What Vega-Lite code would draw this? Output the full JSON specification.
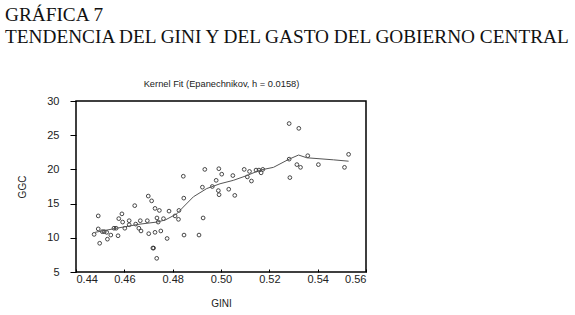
{
  "$schema": "https://vega.github.io/schema/vega-lite/v6.json",
  "width": 290,
  "height": 171,
  "autosize": {"type": "none"},
  "padding": {"left": 76, "top": 101, "right": 209, "bottom": 43},
  "background": "white",
  "title": {
    "text": ["GRÁFICA 7", "TENDENCIA DEL GINI Y DEL GASTO DEL GOBIERNO CENTRAL"],
    "anchor": "start",
    "frame": "group",
    "font": "Liberation Serif",
    "fontSize": 19.3,
    "fontWeight": "normal",
    "color": "#111",
    "lineHeight": 22,
    "dx": -71,
    "offset": 32
  },
  "config": {
    "view": {"stroke": "#000", "strokeWidth": 1.5},
    "axis": {
      "labelFont": "Liberation Sans",
      "titleFont": "Liberation Sans",
      "labelFontSize": 11,
      "titleFontSize": 10,
      "titleFontWeight": "normal",
      "labelColor": "#222",
      "titleColor": "#222",
      "tickColor": "#000",
      "grid": false,
      "domain": false,
      "labelOverlap": false
    }
  },
  "datasets": {
    "pts": [
      {"gini":0.4475,"ggc":10.5},{"gini":0.4492,"ggc":13.2},{"gini":0.4492,"ggc":11.3},{"gini":0.4498,"ggc":9.2},
      {"gini":0.4509,"ggc":10.9},{"gini":0.4517,"ggc":10.9},{"gini":0.4527,"ggc":10.8},{"gini":0.453,"ggc":9.8},
      {"gini":0.4544,"ggc":10.4},{"gini":0.4557,"ggc":11.4},{"gini":0.4566,"ggc":11.4},{"gini":0.4574,"ggc":10.3},
      {"gini":0.4577,"ggc":12.8},{"gini":0.459,"ggc":13.5},{"gini":0.4593,"ggc":12.3},{"gini":0.4602,"ggc":11.4},
      {"gini":0.462,"ggc":12.5},{"gini":0.462,"ggc":11.9},{"gini":0.4643,"ggc":14.7},{"gini":0.4647,"ggc":12.0},
      {"gini":0.466,"ggc":11.4},{"gini":0.4666,"ggc":12.5},{"gini":0.4669,"ggc":11.0},{"gini":0.4695,"ggc":12.5},
      {"gini":0.4699,"ggc":16.1},{"gini":0.4701,"ggc":10.6},{"gini":0.4713,"ggc":15.4},{"gini":0.4718,"ggc":8.5},
      {"gini":0.4721,"ggc":8.5},{"gini":0.4727,"ggc":14.3},{"gini":0.4727,"ggc":10.8},{"gini":0.4734,"ggc":7.0},
      {"gini":0.4735,"ggc":12.9},{"gini":0.474,"ggc":12.3},{"gini":0.4745,"ggc":14.0},{"gini":0.4751,"ggc":11.0},
      {"gini":0.4762,"ggc":12.8},{"gini":0.4777,"ggc":9.9},{"gini":0.4785,"ggc":13.9},{"gini":0.481,"ggc":13.2},
      {"gini":0.4824,"ggc":12.7},{"gini":0.4826,"ggc":14.0},{"gini":0.4844,"ggc":19.0},{"gini":0.4846,"ggc":15.8},
      {"gini":0.4847,"ggc":10.4},{"gini":0.4909,"ggc":10.4},{"gini":0.4923,"ggc":17.4},{"gini":0.4926,"ggc":12.9},
      {"gini":0.4933,"ggc":20.0},{"gini":0.4964,"ggc":17.5},{"gini":0.498,"ggc":18.4},{"gini":0.4989,"ggc":16.9},
      {"gini":0.4991,"ggc":20.1},{"gini":0.4992,"ggc":16.3},{"gini":0.5003,"ggc":19.3},{"gini":0.5032,"ggc":17.1},
      {"gini":0.5049,"ggc":19.1},{"gini":0.5057,"ggc":16.2},{"gini":0.5096,"ggc":20.0},{"gini":0.5109,"ggc":18.9},
      {"gini":0.5118,"ggc":19.7},{"gini":0.5126,"ggc":18.3},{"gini":0.5145,"ggc":19.9},{"gini":0.5157,"ggc":19.9},
      {"gini":0.5166,"ggc":19.5},{"gini":0.5173,"ggc":20.0},{"gini":0.5282,"ggc":26.7},{"gini":0.5322,"ggc":26.0},
      {"gini":0.5282,"ggc":21.5},{"gini":0.5285,"ggc":18.8},{"gini":0.5314,"ggc":20.7},{"gini":0.5329,"ggc":20.3},
      {"gini":0.5359,"ggc":22.0},{"gini":0.5403,"ggc":20.7},{"gini":0.5511,"ggc":20.3},{"gini":0.5528,"ggc":22.2}
    ],
    "fit": [
      {"gini":0.4479,"ggc":10.8},{"gini":0.4568,"ggc":11.4},{"gini":0.4665,"ggc":12.0},{"gini":0.4734,"ggc":12.3},
      {"gini":0.4769,"ggc":12.6},{"gini":0.4817,"ggc":13.5},{"gini":0.4844,"ggc":14.5},{"gini":0.4886,"ggc":16.0},
      {"gini":0.4941,"ggc":17.2},{"gini":0.4996,"ggc":17.9},{"gini":0.5051,"ggc":18.4},{"gini":0.5107,"ggc":19.1},
      {"gini":0.5162,"ggc":19.9},{"gini":0.5217,"ggc":20.3},{"gini":0.5282,"ggc":21.5},{"gini":0.5321,"ggc":22.1},
      {"gini":0.5355,"ggc":21.7},{"gini":0.5465,"ggc":21.4},{"gini":0.5528,"ggc":21.2}
    ]
  },
  "layer": [
    {
      "data": {"name": "pts"},
      "mark": {"type": "point", "shape": "circle", "filled": false, "size": 14, "stroke": "#333", "strokeWidth": 0.9, "opacity": 1},
      "encoding": {
        "x": {"field": "gini", "type": "quantitative", "scale": {"domain": [0.44, 0.56], "nice": false, "zero": false},
              "axis": {"title": "GINI", "values": [0.44,0.46,0.48,0.50,0.52,0.54,0.56], "format": ".2f", "titlePadding": 14, "tickSize": -3, "labelPadding": 4}},
        "y": {"field": "ggc", "type": "quantitative", "scale": {"domain": [5, 30], "nice": false, "zero": false},
              "axis": {"title": "GGC", "values": [5,10,15,20,25,30], "tickSize": 6, "labelPadding": 11, "titlePadding": 19}}
      }
    },
    {
      "data": {"name": "fit"},
      "mark": {"type": "line", "color": "#555", "strokeWidth": 1},
      "encoding": {
        "x": {"field": "gini", "type": "quantitative",
              "axis": {"orient": "top", "title": "Kernel Fit (Epanechnikov, h = 0.0158)", "labels": false, "ticks": false, "domain": false, "titlePadding": 13, "titleFontSize": 9.3}},
        "y": {"field": "ggc", "type": "quantitative",
              "axis": {"title": "GGC", "values": [5,10,15,20,25,30], "tickSize": 6, "labelPadding": 11, "titlePadding": 19}}
      }
    }
  ],
  "resolve": {"axis": {"x": "independent"}}
}
